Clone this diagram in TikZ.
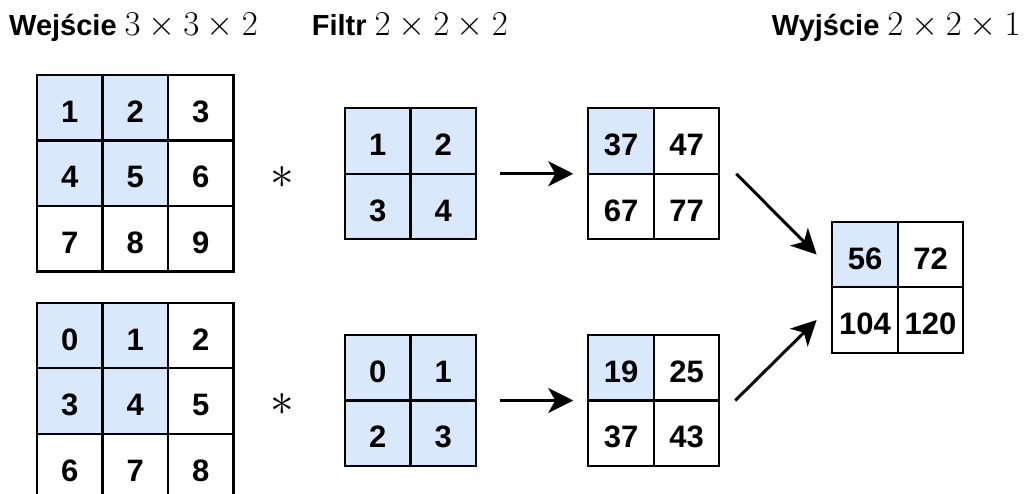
\documentclass[tikz,border=0pt]{standalone}
\usepackage{graphicx}
\usepackage[no-math]{fontspec}
\newfontfamily\cellfont{Liberation Sans}
\usetikzlibrary{arrows.meta}
\definecolor{cellblue}{HTML}{DAE8FC}
\newcommand{\dims}[1]{{\Huge\scalebox{1.4}{$#1$}}}

\begin{document}
\begin{tikzpicture}[x=1pt,y=-1pt]
    \tikzstyle{cell}=[draw,line width=2.2pt,minimum size=65.5pt,inner sep=0pt,outer sep=0pt,
      font=\cellfont\bfseries\fontsize{31}{36}\selectfont,text height=29pt,text depth=0pt];
    \tikzstyle{hot}=[cell,fill=cellblue];
    \tikzstyle{title}=[anchor=base west,inner sep=0pt,
      font=\cellfont\bfseries\fontsize{29}{34}\selectfont];
    \tikzstyle{conv}=[font=\Huge,inner sep=0pt];
    \tikzstyle{arr}=[line width=3pt,-{Stealth[length=25pt,width=25pt,inset=7pt]}];
    \useasboundingbox (0,0) rectangle (1025,493);

    \node (tin) [title] at (9,35) {Wejście \dims{3\times3\times2}};
    \node (tf) [title] at (311.7,35) {Filtr \dims{2\times2\times2}};
    \node (tout) [title] at (771.7,35) {Wyjście \dims{2\times2\times1}};

    % input, first channel
    \node (a11) [hot] at (69.75,107.75) {1}; \node (a12) [hot] at (135.25,107.75) {2};
    \node (a13) [cell] at (200.75,107.75) {3};
    \node (a21) [hot] at (69.75,173.25) {4}; \node (a22) [hot] at (135.25,173.25) {5};
    \node (a23) [cell] at (200.75,173.25) {6};
    \node (a31) [cell] at (69.75,238.75) {7}; \node (a32) [cell] at (135.25,238.75) {8};
    \node (a33) [cell] at (200.75,238.75) {9};

    % input, second channel
    \node (b11) [hot] at (69.75,335.5) {0}; \node (b12) [hot] at (135.25,335.5) {1};
    \node (b13) [cell] at (200.75,335.5) {2};
    \node (b21) [hot] at (69.75,401) {3}; \node (b22) [hot] at (135.25,401) {4};
    \node (b23) [cell] at (200.75,401) {5};
    \node (b31) [cell] at (69.75,466.5) {6}; \node (b32) [cell] at (135.25,466.5) {7};
    \node (b33) [cell] at (200.75,466.5) {8};

    \node (s1) [conv] at (282.5,177.5) {\scalebox{1.9}{$\ast$}};
    \node (s2) [conv] at (282.5,404) {\scalebox{1.9}{$\ast$}};

    % filter
    \node (f11) [hot] at (377.75,141) {1}; \node (f12) [hot] at (443.25,141) {2};
    \node (f21) [hot] at (377.75,206.5) {3}; \node (f22) [hot] at (443.25,206.5) {4};

    \node (g11) [hot] at (377.75,367.75) {0}; \node (g12) [hot] at (443.25,367.75) {1};
    \node (g21) [hot] at (377.75,433.25) {2}; \node (g22) [hot] at (443.25,433.25) {3};

    % partial results
    \node (o11) [hot] at (621,141) {37}; \node (o12) [cell] at (686.5,141) {47};
    \node (o21) [cell] at (621,206.5) {67}; \node (o22) [cell] at (686.5,206.5) {77};

    \node (p11) [hot] at (621,367.75) {19}; \node (p12) [cell] at (686.5,367.75) {25};
    \node (p21) [cell] at (621,433.25) {37}; \node (p22) [cell] at (686.5,433.25) {43};

    % output
    \node (w11) [hot] at (865,254.5) {56}; \node (w12) [cell] at (930.5,254.5) {72};
    \node (w21) [cell] at (865,320) {104}; \node (w22) [cell] at (930.5,320) {120};

    \path ([xshift=24pt]f12.south east) edge [arr] ([xshift=-15pt]o21.north west)
    ([xshift=24pt]g12.south east) edge [arr] ([xshift=-15pt]p21.north west)
    ([xshift=17pt]o12.south east) edge [arr] ([xshift=-15.6pt]w11.west)
    ([xshift=16pt]p12.south east) edge [arr] ([xshift=-15.6pt]w21.west);
  \end{tikzpicture}
\end{document}
